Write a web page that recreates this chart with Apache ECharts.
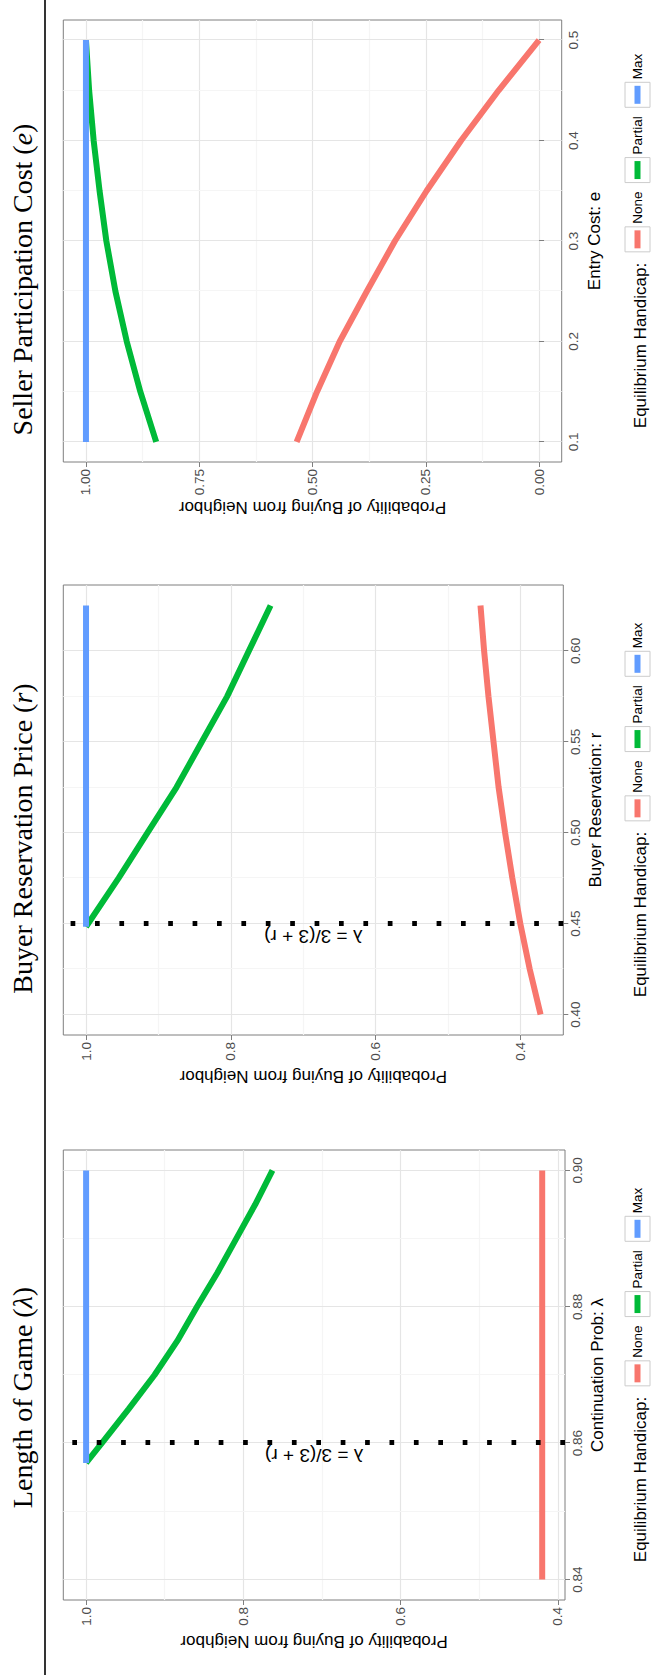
<!DOCTYPE html>
<html><head><meta charset="utf-8">
<script src="https://cdn.jsdelivr.net/npm/echarts@6/dist/echarts.min.js"></script>
<style>
html,body{margin:0;padding:0;background:#fff;overflow:hidden;width:652px;height:1677px;}
#wrap{position:absolute;left:0;top:0;width:1677px;height:652px;transform-origin:0 0;transform:translate(0px,1677px) rotate(-90deg);}
#chart{width:1677px;height:652px;background:#fff;}
</style></head><body>
<div id="wrap"><div id="chart"></div></div>
<script>
// ---------------- DATA ----------------
const seriesNames = ['None', 'Partial', 'Max'];
const seriesColors = ['#F8766D', '#00BA38', '#619CFF'];

// Panel 1: Length of Game (lambda)
const lambdaNoneX = [0.84, 0.90];
const lambdaNoneY = [0.42, 0.42];
const lambdaPartialX = [0.8571, 0.86, 0.865, 0.87, 0.875, 0.88, 0.885, 0.89, 0.895, 0.90];
const lambdaPartialY = [1.000, 0.980, 0.946, 0.913, 0.884, 0.859, 0.833, 0.809, 0.785, 0.763];
const lambdaMaxX = [0.8571, 0.90];
const lambdaMaxY = [1.0, 1.0];
const lambdaThreshold = 0.8571;
const lambdaTicks = [0.84, 0.86, 0.88, 0.90];
const prob1Ticks = [0.4, 0.6, 0.8, 1.0];

// Panel 2: Buyer Reservation Price (r)
const rNoneX = [0.40, 0.425, 0.45, 0.475, 0.50, 0.525, 0.55, 0.575, 0.60, 0.625];
const rNoneY = [0.372, 0.387, 0.400, 0.411, 0.421, 0.430, 0.437, 0.444, 0.450, 0.455];
const rPartialX = [0.4483, 0.475, 0.50, 0.525, 0.55, 0.575, 0.60, 0.625];
const rPartialY = [1.000, 0.955, 0.915, 0.875, 0.840, 0.805, 0.775, 0.745];
const rMaxX = [0.4483, 0.625];
const rMaxY = [1.0, 1.0];
const rThreshold = 0.4483;
const rTicks = [0.40, 0.45, 0.50, 0.55, 0.60];
const prob2Ticks = [0.4, 0.6, 0.8, 1.0];

// Panel 3: Seller Participation Cost (e)
const eNoneX = [0.10, 0.15, 0.20, 0.25, 0.30, 0.35, 0.40, 0.45, 0.50];
const eNoneY = [0.535, 0.490, 0.440, 0.380, 0.318, 0.248, 0.172, 0.089, 0.000];
const ePartialX = [0.10, 0.15, 0.20, 0.25, 0.30, 0.35, 0.40, 0.45, 0.50];
const ePartialY = [0.845, 0.880, 0.910, 0.935, 0.955, 0.970, 0.983, 0.993, 1.000];
const eMaxX = [0.10, 0.50];
const eMaxY = [1.0, 1.0];
const eTicks = [0.1, 0.2, 0.3, 0.4, 0.5];
const prob3Ticks = [0.00, 0.25, 0.50, 0.75, 1.00];

const panelTitles = ['Length of Game ({i|λ})', 'Buyer Reservation Price ({i|r})', 'Seller Participation Cost ({i|e})'];
const xTitles = ['Continuation Prob: λ', 'Buyer Reservation: r', 'Entry Cost: e'];
const yTitle = 'Probability of Buying from Neighbor';
const legendTitle = 'Equilibrium Handicap:';
const annotationText = 'λ = 3/(3 + r)';

// ---------------- LAYOUT ----------------
const SANS = '"Liberation Sans", Arial, Helvetica, sans-serif';
const SERIF = '"Liberation Serif", "Times New Roman", serif';
const panels = [
  {left: 77, top: 63.3, width: 450, height: 501.7, xs: [lambdaNoneX, lambdaPartialX, lambdaMaxX], ys: [lambdaNoneY, lambdaPartialY, lambdaMaxY], xt: lambdaTicks, yt: prob1Ticks, xd: 2, yd: 1, thr: lambdaThreshold, cx: 279.5},
  {left: 642, top: 63.3, width: 450, height: 500, xs: [rNoneX, rPartialX, rMaxX], ys: [rNoneY, rPartialY, rMaxY], xt: rTicks, yt: prob2Ticks, xd: 2, yd: 1, thr: rThreshold, cx: 838.5},
  {left: 1215, top: 63.3, width: 442, height: 498.4, xs: [eNoneX, ePartialX, eMaxX], ys: [eNoneY, ePartialY, eMaxY], xt: eTicks, yt: prob3Ticks, xd: 1, yd: 2, thr: null, cx: 1397.5}
];

function expand(arrs) {
  const all = [].concat(...arrs);
  const mn = Math.min(...all), mx = Math.max(...all), d = (mx - mn) * 0.05;
  return [mn - d, mx + d];
}
function minors(t) {
  const out = [];
  for (let i = 0; i < t.length - 1; i++) out.push((t[i] + t[i + 1]) / 2);
  return out;
}

const cvs = document.createElement('canvas').getContext('2d');
function tw(t, size) { cvs.font = size + 'px ' + SANS; return cvs.measureText(t).width; }

const grid = [], xAxis = [], yAxis = [], series = [], legend = [], graphic = [];

panels.forEach((p, i) => {
  grid.push({left: p.left, top: p.top, width: p.width, height: p.height, show: true,
    borderColor: '#7f7f7f', borderWidth: 1, backgroundColor: 'transparent'});
  const xr = expand(p.xs), yr = expand(p.ys);
  p.xr = xr; p.yr = yr;
  const labelStyle = {color: '#4d4d4d', fontSize: 13.5, fontFamily: SANS};
  xAxis.push({gridIndex: i, type: 'value', min: xr[0], max: xr[1],
    axisLine: {show: false},
    axisTick: {show: true, length: 5, customValues: p.xt, lineStyle: {color: '#7f7f7f', width: 1}},
    axisLabel: Object.assign({customValues: p.xt, margin: 5, formatter: v => v.toFixed(p.xd)}, labelStyle),
    splitLine: {show: true, lineStyle: {color: '#e5e5e5', width: 1.2}},
    name: xTitles[i], nameLocation: 'middle', nameGap: 22.5,
    nameTextStyle: {color: '#000', fontSize: 17, fontFamily: SANS}});
  yAxis.push({gridIndex: i, type: 'value', min: yr[0], max: yr[1],
    axisLine: {show: false},
    axisTick: {show: true, length: 5, customValues: p.yt, lineStyle: {color: '#7f7f7f', width: 1}},
    axisLabel: Object.assign({customValues: p.yt, margin: 7, formatter: v => v.toFixed(p.yd)}, labelStyle),
    splitLine: {show: true, lineStyle: {color: '#e5e5e5', width: 1.2}},
    name: yTitle, nameLocation: 'middle', nameRotate: 90, nameGap: 33,
    nameTextStyle: {color: '#000', fontSize: 17, fontFamily: SANS}});
});
// minor grid axes
panels.forEach((p, i) => {
  xAxis.push({gridIndex: i, type: 'value', min: p.xr[0], max: p.xr[1],
    axisLine: {show: false}, axisTick: {show: false, customValues: minors(p.xt)},
    axisLabel: {show: false, customValues: minors(p.xt)},
    splitLine: {show: true, lineStyle: {color: '#f5f5f5', width: 1.2}}});
  yAxis.push({gridIndex: i, type: 'value', min: p.yr[0], max: p.yr[1],
    axisLine: {show: false}, axisTick: {show: false, customValues: minors(p.yt)},
    axisLabel: {show: false, customValues: minors(p.yt)},
    splitLine: {show: true, lineStyle: {color: '#f5f5f5', width: 1.2}}});
});

panels.forEach((p, i) => {
  seriesNames.forEach((nm, k) => {
    const s = {
      type: 'line', name: nm, xAxisIndex: i, yAxisIndex: i,
      data: p.xs[k].map((x, j) => [x, p.ys[k][j]]),
      showSymbol: false, symbol: 'none', smooth: false,
      lineStyle: {color: seriesColors[k], width: 6, cap: 'butt'},
      itemStyle: {color: seriesColors[k]},
      z: 2 + k, silent: true
    };
    if (k === 2 && p.thr != null) {
      s.markLine = {
        silent: true, symbol: ['none', 'none'], animation: false,
        lineStyle: {color: '#000', width: 5, type: [4.7, 19.7], cap: 'butt'},
        label: {show: true, formatter: annotationText, position: 'insideMiddleTop', distance: 3,
          color: '#000', fontSize: 19, fontFamily: SANS},
        data: [{xAxis: p.thr}]
      };
    }
    series.push(s);
  });

  // panel title
  graphic.push({type: 'text', x: p.cx, y: 22, z: 10,
    style: {text: panelTitles[i], fontFamily: SERIF, fontSize: 28, fill: '#000',
      textAlign: 'center', textVerticalAlign: 'middle',
      rich: {i: {fontStyle: 'italic', fontFamily: SERIF, fontSize: 28}}}});

  // legend
  const cx = p.left + p.width / 2;
  const wt = tw(legendTitle, 17);
  const ws = seriesNames.map(n => tw(n, 13.5));
  const total = wt + 11 + ws.reduce((a, w) => a + 25 + 3 + w, 0) + 9 * 2;
  let x = cx - total / 2;
  graphic.push({type: 'text', x: x, y: 640, z: 10,
    style: {text: legendTitle, fontFamily: SANS, fontSize: 17, fill: '#000', textAlign: 'left', textVerticalAlign: 'middle'}});
  x += wt + 11;
  legend.push({show: true, left: x + 3.5, top: 629.5, orient: 'horizontal', padding: 0,
    itemWidth: 18, itemHeight: 6, itemGap: 12.5, icon: 'rect', selectedMode: false, z: 20,
    textStyle: {fontSize: 13.5, fontFamily: SANS, color: '#000', lineHeight: 16, padding: [0, 0, 0, 1.5]},
    data: seriesNames.slice()});
  ws.forEach(w => {
    graphic.push({type: 'rect', z: 5, shape: {x: x, y: 625, width: 25, height: 25},
      style: {fill: '#fff', stroke: '#cccccc', lineWidth: 1}});
    x += 25 + 3 + w + 9;
  });
});

// rule under titles
graphic.push({type: 'line', z: 10, shape: {x1: 2, y1: 45, x2: 1677, y2: 45}, style: {stroke: '#000', lineWidth: 1.6}});

const chart = echarts.init(document.getElementById('chart'), null, {renderer: 'svg', width: 1677, height: 652});
chart.setOption({
  animation: false,
  backgroundColor: '#fff',
  grid, xAxis, yAxis, series, legend, graphic
});
</script>
</body></html>
